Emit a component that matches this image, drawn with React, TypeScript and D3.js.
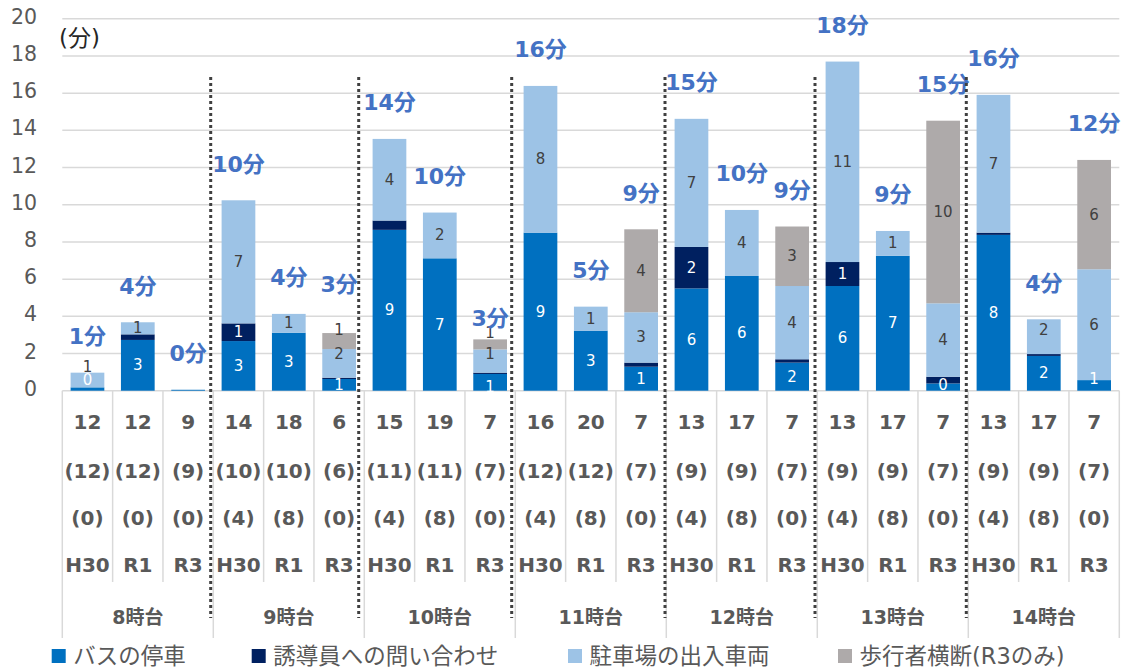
import React from "react";
import * as d3 from "d3";

// 分 per bar (stacked)
const busStop = [0.18, 2.73, 0.05, 2.67, 3.12, 0.63, 8.65, 7.12, 0.9, 8.5, 3.23, 1.29, 5.5, 6.17, 1.51, 5.63, 7.25, 0.39, 8.38, 1.87, 0.57];
const guideInquiry = [0, 0.3, 0, 0.95, 0, 0.07, 0.5, 0, 0.07, 0, 0, 0.22, 2.23, 0, 0.18, 1.29, 0, 0.36, 0.12, 0.1, 0];
const parkingCars = [0.79, 0.65, 0, 6.62, 1.01, 1.54, 4.39, 2.46, 1.25, 7.89, 1.29, 2.71, 6.89, 3.55, 3.94, 10.78, 1.34, 3.95, 7.41, 1.87, 5.96];
const pedestrians = [0, 0, 0, 0, 0, 0.86, 0, 0, 0.54, 0, 0, 4.46, 0, 0, 3.2, 0, 0, 9.82, 0, 0, 5.88];

// category axis rows
const countRow = [12, 12, 9, 14, 18, 6, 15, 19, 7, 16, 20, 7, 13, 17, 7, 13, 17, 7, 13, 17, 7];
const countRow2 = [12, 12, 9, 10, 10, 6, 11, 11, 7, 12, 12, 7, 9, 9, 7, 9, 9, 7, 9, 9, 7];
const countRow3 = [0, 0, 0, 4, 8, 0, 4, 8, 0, 4, 8, 0, 4, 8, 0, 4, 8, 0, 4, 8, 0];
const years = ["H30", "R1", "R3"];
const hours = ["8時台", "9時台", "10時台", "11時台", "12時台", "13時台", "14時台"];
const yTicks = [0, 2, 4, 6, 8, 10, 12, 14, 16, 18, 20];

const seriesNames = ["バスの停車", "誘導員への問い合わせ", "駐車場の出入車両", "歩行者横断(R3のみ)"];
const seriesKeys = ["bus", "guide", "parking", "ped"];
const seriesColors = ["#0070C0", "#002060", "#9DC3E6", "#AEAAAA"];
const labelColors = ["#ffffff", "#ffffff", "#404040", "#404040"];
const labelMin = [0.1, 0.6, 0.01, 0.01];

// hand placed label tweaks, as in the original sheet
const segNudge: Record<string, number> = {
  "0-bus": -5, "0-parking": -13, "5-parking": -9, "5-ped": -11,
  "8-bus": 5, "8-parking": -7, "8-ped": -11, "19-parking": -7, "20-bus": -6,
};
const totalNudge: Record<number, number> = { 5: -13, 8: 15 };
const dividerNudge = [-2.6, -5.6, -3.6, -1.3, -2.3, -2];

const W = 1130;
const H = 671;
const left = 62.3;
const right = 1119.3;
const font = "'DejaVu Sans', 'Noto Sans CJK JP', sans-serif";
const axisGray = "#595959";
const gridGray = "#D9D9D9";

const rows = busStop.map((v, i) => ({
  i,
  bus: v,
  guide: guideInquiry[i],
  parking: parkingCars[i],
  ped: pedestrians[i],
}));

export default function App() {
  const x = d3.scaleBand<number>().domain(rows.map((r) => r.i)).range([left, right]).paddingInner(0.33).paddingOuter(0.165);
  const step = x.step();
  const y = d3.scaleLinear().domain([0, 20]).range([390.7, 18.8]);
  const stacked = d3.stack<any>().keys(seriesKeys)(rows);
  const catLeft = (i: number) => left + i * step;

  const legendX = [51.7, 251.7, 568, 838];

  return (
    <svg width={W} height={H} style={{ position: "absolute", left: 0, top: 0, background: "#fff" }} fontFamily={font}>
      {/* gridlines */}
      {yTicks.map((t) => (
        <g key={t}>
          <line x1={left} x2={right} y1={y(t)} y2={y(t)} stroke={gridGray} strokeWidth={1.5} />
          <text x={37} y={y(t) - 1} textAnchor="end" dominantBaseline="middle" fontSize={20.5} fill={axisGray}>
            {t}
          </text>
        </g>
      ))}
      <text x={59} y={39} fontSize={23} fill="#262626" dominantBaseline="middle">(分)</text>

      {/* category ticks */}
      {d3.range(22).map((k) => {
        const isGroup = k % 3 === 0;
        return (
          <line key={k} x1={catLeft(k)} x2={catLeft(k)} y1={y(0)} y2={isGroup ? 638 : 582} stroke={gridGray} strokeWidth={1.5} />
        );
      })}

      {/* bars */}
      {stacked.map((s, si) => (
        <g key={s.key} fill={seriesColors[si]}>
          {s.map((d, i) => {
            const h = y(d[0]) - y(d[1]);
            if (h <= 0) return null;
            return <rect key={i} x={x(i)} width={x.bandwidth()} y={y(d[1])} height={h} />;
          })}
        </g>
      ))}

      {/* segment labels */}
      {stacked.map((s, si) =>
        s.map((d, i) => {
          const v = d[1] - d[0];
          if (v < labelMin[si]) return null;
          const key = `${i}-${s.key}`;
          let cy = (y(d[0]) + y(d[1])) / 2;
          cy = Math.min(cy, y(0) - 6);
          cy += segNudge[key] || 0;
          return (
            <text key={key} x={(x(i) as number) + x.bandwidth() / 2} y={cy} textAnchor="middle" dominantBaseline="central" fontSize={15} fill={labelColors[si]}>
              {Math.round(v)}
            </text>
          );
        })
      )}

      {/* totals */}
      {rows.map((r, i) => {
        const total = r.bus + r.guide + r.parking + r.ped;
        return (
          <text key={i} x={(x(i) as number) + x.bandwidth() / 2} y={y(total) - 36 + (totalNudge[i] || 0)} textAnchor="middle" dominantBaseline="central" fontSize={22} fontWeight="bold" fill="#4472C4">
            {Math.round(total)}分
          </text>
        );
      })}

      {/* dotted dividers */}
      {dividerNudge.map((dx, k) => {
        const xx = catLeft((k + 1) * 3) + dx;
        return <line key={k} x1={xx} x2={xx} y1={77} y2={618} stroke="#404040" strokeWidth={3} strokeDasharray="3 3" />;
      })}

      {/* category labels */}
      {rows.map((r, i) => {
        const cx = catLeft(i) + step / 2;
        const lines = [String(countRow[i]), `(${countRow2[i]})`, `(${countRow3[i]})`, years[i % 3]];
        const ys = [422, 471, 518, 565];
        return (
          <g key={i} fontSize={20} fontWeight="bold" fill={axisGray} textAnchor="middle">
            {lines.map((t, j) => (
              <text key={j} x={cx} y={ys[j]} dominantBaseline="central">{t}</text>
            ))}
          </g>
        );
      })}
      {hours.map((h, g) => (
        <text key={h} x={catLeft(g * 3) + step * 1.5} y={617} textAnchor="middle" dominantBaseline="central" fontSize={19} fontWeight="bold" fill={axisGray}>
          {h}
        </text>
      ))}

      {/* legend */}
      {seriesNames.map((n, k) => (
        <g key={n}>
          <rect x={legendX[k]} y={649} width={14} height={14} fill={seriesColors[k]} />
          <text x={legendX[k] + 21.5} y={656} dominantBaseline="central" fontSize={22.5} fill={axisGray}>
            {n}
          </text>
        </g>
      ))}
    </svg>
  );
}
